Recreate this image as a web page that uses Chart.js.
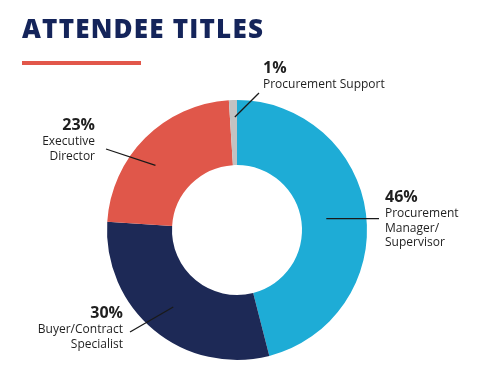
<!DOCTYPE html>
<html>
<head>
<meta charset="utf-8">
<script src="https://cdn.jsdelivr.net/npm/chart.js@4/dist/chart.umd.min.js"></script>
<style>
  html, body { margin: 0; padding: 0; background: #fff; }
  #wrap { position: relative; width: 480px; height: 380px; }
  #title { position: absolute; left: 22px; top: 10px; font-family: 'Open Sans', sans-serif; font-weight: 800;
           font-size: 26px; letter-spacing: 1.2px; color: #14245a; white-space: nowrap; }
  #rule { position: absolute; left: 22px; top: 61px; width: 119px; height: 4px; background: #e2574a; }
  canvas { position: absolute; left: 0; top: 0; }
</style>
</head>
<body>
<div id="wrap">
  <canvas id="c" width="480" height="380"></canvas>
  <div id="title">ATTENDEE TITLES</div>
  <div id="rule"></div>
</div>
<script>
// ---- data ----
const categories = ['Procurement Manager/Supervisor', 'Buyer/Contract Specialist', 'Executive Director', 'Procurement Support'];
const shares = [46, 30, 23, 1];
const labelLines = [
  ['Procurement', 'Manager/', 'Supervisor'],
  ['Buyer/Contract', 'Specialist'],
  ['Executive', 'Director'],
  ['Procurement Support']
];
const colors = ['#1eacd6', '#1d2956', '#e0574a', '#c2c2c2'];

// ---- label layout (annotation placement only) ----
// t: fraction along slice for leader start, r: radius for leader start,
// end: leader end offset from centre, text: text anchor offset from centre
const labelLayout = [
  { t: 0.5,  r: 90,  end: [142, -9],   horiz: true, text: [148, -28], align: 'left' },
  { t: 0.5,  r: 100, end: [-107, 102], text: [-114, 88], align: 'right' },
  { t: 0.42, r: 104, end: [-131, -81], text: [-142, -100], align: 'right' },
  { t: 0.7,  r: 113, end: [22, -137],  text: [26, -157], align: 'left' }
];

const leaderPlugin = {
  id: 'leaders',
  afterDatasetsDraw(chart) {
    const ctx = chart.ctx;
    const meta = chart.getDatasetMeta(0);
    meta.data.forEach((arc, i) => {
      const L = labelLayout[i];
      const cx = arc.x, cy = arc.y;
      const a = arc.startAngle + (arc.endAngle - arc.startAngle) * L.t;
      const sx = cx + Math.cos(a) * L.r;
      let sy = cy + Math.sin(a) * L.r;
      const ex = cx + L.end[0];
      const ey = L.horiz ? sy : cy + L.end[1];
      ctx.save();
      ctx.strokeStyle = '#1a1a1a';
      ctx.lineWidth = 1.3;
      ctx.beginPath();
      ctx.moveTo(sx, sy);
      ctx.lineTo(ex, ey);
      ctx.stroke();
      // text
      const tx = cx + L.text[0];
      let ty = cy + L.text[1];
      ctx.fillStyle = '#1f1f1f';
      ctx.textAlign = L.align;
      ctx.textBaseline = 'alphabetic';
      ctx.font = 'bold 16px "Open Sans", sans-serif';
      ctx.fillText(shares[i] + '%', tx, ty);
      ctx.font = '12px "Open Sans", sans-serif';
      labelLines[i].forEach((line, k) => {
        ctx.fillText(line, tx, ty + 15 + k * 14.5);
      });
      ctx.restore();
    });
  }
};

new Chart(document.getElementById('c'), {
  type: 'doughnut',
  data: {
    labels: categories,
    datasets: [{ data: shares, backgroundColor: colors, borderWidth: 0, hoverOffset: 0 }]
  },
  options: {
    responsive: false,
    animation: false,
    cutout: '50%',
    rotation: 0,
    layout: { padding: { left: 107, right: 113, top: 100, bottom: 20 } },
    plugins: { legend: { display: false }, tooltip: { enabled: false } }
  },
  plugins: [leaderPlugin]
});
</script>
</body>
</html>
